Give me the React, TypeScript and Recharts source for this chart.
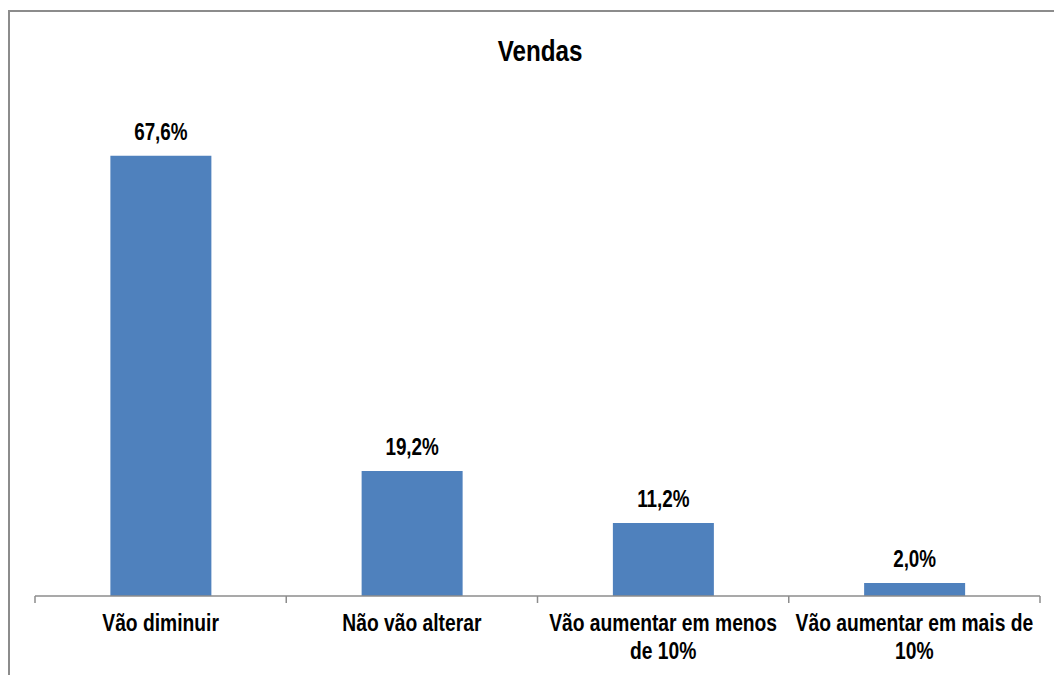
import { BarChart, Bar, XAxis, YAxis, LabelList } from 'recharts';

const categories = [
  'Vão diminuir',
  'Não vão alterar',
  'Vão aumentar em menos de 10%',
  'Vão aumentar em mais de 10%',
];
const tickLines = [
  ['Vão diminuir'],
  ['Não vão alterar'],
  ['Vão aumentar em menos', 'de 10%'],
  ['Vão aumentar em mais de', '10%'],
];
const vendas = [67.6, 19.2, 11.2, 2.0];

const data = categories.map((c, i) => ({ name: c, value: vendas[i] }));

// Arial Narrow is not available: squeeze Liberation Sans horizontally
const FONT = '"Liberation Sans", Arial, sans-serif';
const NARROW = 0.82;

function CategoryTick(props: any) {
  const { x, y, payload, index, visibleTicksCount } = props;
  const half = payload && payload.offset ? payload.offset : 0;
  const lines = tickLines[index] || [String(payload.value)];
  const isLast = index === visibleTicksCount - 1;
  return (
    <g>
      <line x1={x - half} y1={y - 8} x2={x - half} y2={y - 1} stroke="#8c8c8c" strokeWidth={1.5} />
      {isLast && (
        <line x1={x + half} y1={y - 8} x2={x + half} y2={y - 1} stroke="#8c8c8c" strokeWidth={1.5} />
      )}
      <text
        transform={`translate(${x},${y + 27}) scale(${NARROW},1)`}
        textAnchor="middle"
        fontFamily={FONT}
        fontWeight="bold"
        fontSize={23.5}
        fill="#000"
      >
        {lines.map((l, i) => (
          <tspan key={i} x={0} dy={i === 0 ? 0 : 28}>
            {l}
          </tspan>
        ))}
      </text>
    </g>
  );
}

function ValueLabel(props: any) {
  const { x, y, width, value } = props;
  const txt = Number(value).toFixed(1).replace('.', ',') + '%';
  return (
    <text
      transform={`translate(${x + width / 2},${y - 16}) scale(${NARROW},1)`}
      textAnchor="middle"
      fontFamily={FONT}
      fontWeight="bold"
      fontSize={23}
      fill="#000"
    >
      {txt}
    </text>
  );
}

export default function App() {
  return (
    <div style={{ position: 'fixed', left: 0, top: 0, width: 1054, height: 675, overflow: 'hidden', background: '#fff' }}>
      <div
        style={{
          position: 'absolute',
          left: 8,
          top: 10,
          width: 1100,
          height: 720,
          borderTop: '2px solid #8c8c8c',
          borderLeft: '2px solid #8c8c8c',
        }}
      />
      <div
        style={{
          position: 'absolute',
          left: 0,
          top: 33,
          width: 1080,
          textAlign: 'center',
          fontFamily: FONT,
          fontWeight: 'bold',
          fontSize: 29.5,
          lineHeight: '36px',
          color: '#000',
          transform: `scaleX(${NARROW})`,
        }}
      >
        Vendas
      </div>
      <div style={{ position: 'absolute', left: 0, top: 0 }}>
        <BarChart
          width={1054}
          height={675}
          data={data}
          margin={{ top: 75, right: 14, left: 35, bottom: 0 }}
          barCategoryGap="30%"
        >
          <YAxis hide domain={[0, 80]} />
          <XAxis
            dataKey="name"
            height={79}
            axisLine={{ stroke: '#8c8c8c', strokeWidth: 1.5 }}
            tickLine={false}
            interval={0}
            tick={<CategoryTick />}
          />
          <Bar dataKey="value" fill="#4f81bd" isAnimationActive={false}>
            <LabelList dataKey="value" content={<ValueLabel />} />
          </Bar>
        </BarChart>
      </div>
    </div>
  );
}
